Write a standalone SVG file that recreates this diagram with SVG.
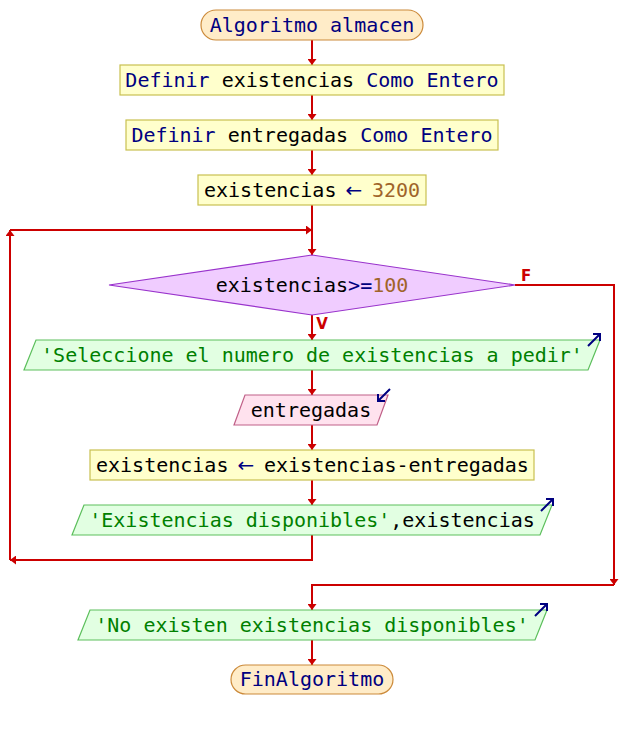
<svg xmlns="http://www.w3.org/2000/svg" xmlns:xlink="http://www.w3.org/1999/xlink" width="624" height="730" viewBox="0 0 624 730">
<style>
text{font-family:"DejaVu Sans Mono","Liberation Mono",monospace;font-size:20px;text-anchor:middle;fill:#000}
text.st{text-anchor:start}
.k{fill:#000080}
.ar{fill:#000080;font-family:"DejaVu Sans","Liberation Sans",sans-serif;font-size:20px}
.n{fill:#a0642a}
.s{fill:#008000}
.term{fill:#ffecc8;stroke:#cc8a3a;stroke-width:1.2}
.proc{fill:#ffffcc;stroke:#c8c050;stroke-width:1.2}
.dec{fill:#f0ccff;stroke:#9933cc;stroke-width:1.2}
.out{fill:#e2ffe2;stroke:#5cbf5c;stroke-width:1.2}
.in{fill:#ffe2ee;stroke:#c06088;stroke-width:1.2}
.c{fill:none;stroke:#cc0000;stroke-width:2;marker-end:url(#ah)}
.lbl{font-family:"DejaVu Sans","Liberation Sans",sans-serif;font-size:15px;font-weight:bold;fill:#cc0000}
.io{fill:none;stroke:#000080;stroke-width:2}
</style>
<defs>
<marker id="ah" viewBox="0 0 6 9" refX="6" refY="4.5" markerWidth="6" markerHeight="9" markerUnits="userSpaceOnUse" orient="auto"><path d="M0,0 L6,4.5 L0,9 z" fill="#cc0000"/></marker>
<path id="oa" class="io" d="M0,13 L12,1 M5,1 L12,1 L12,8"/>
<path id="ia" class="io" d="M13,0 L1,12 M1,5 L1,12 L8,12"/>
</defs>

<g id="connectors">
<path class="c" d="M312,40 V65"/>
<path class="c" d="M312,95 V120"/>
<path class="c" d="M312,150 V175"/>
<path class="c" d="M312,205 V255"/>
<path class="c" d="M312,315 V340"/>
<path class="c" d="M312,370 V395"/>
<path class="c" d="M312,425 V450"/>
<path class="c" d="M312,480 V505"/>
<path class="c" d="M312,535 V560 H10"/>
<path class="c" d="M10,560 V230"/>
<path class="c" d="M10,230 H312"/>
<path class="c" d="M515,285 H614 V585"/>
<path class="c" d="M614,585 H312 V610"/>
<path class="c" d="M312,640 V665"/>
<text class="lbl" x="322" y="329">V</text>
<text class="lbl" x="526" y="281">F</text>
</g>

<g id="start">
<rect class="term" x="201" y="10" width="222" height="30" rx="15" ry="15"/>
<text x="312" y="32"><tspan class="k">Algoritmo almacen</tspan></text>
</g>

<g id="def1">
<rect class="proc" x="120" y="65" width="384" height="30"/>
<text x="312" y="87"><tspan class="k">Definir</tspan> existencias <tspan class="k">Como Entero</tspan></text>
</g>

<g id="def2">
<rect class="proc" x="126" y="120" width="372" height="30"/>
<text x="312" y="142"><tspan class="k">Definir</tspan> entregadas <tspan class="k">Como Entero</tspan></text>
</g>

<g id="assign1">
<rect class="proc" x="198" y="175" width="228" height="30"/>
<text class="st" x="204" y="197">existencias<tspan class="ar" x="345.5">←</tspan><tspan class="n" x="372">3200</tspan></text>
</g>

<g id="cond">
<polygon class="dec" points="312,255 515,285 312,315 109,285"/>
<text x="312" y="292">existencias<tspan class="k">&gt;=</tspan><tspan class="n">100</tspan></text>
</g>

<g id="out1">
<polygon class="out" points="36,340 600,340 588,370 24,370"/>
<text x="312" y="362"><tspan class="s">'Seleccione el numero de existencias a pedir'</tspan></text>
<use xlink:href="#oa" x="588" y="333"/>
</g>

<g id="in1">
<polygon class="in" points="245,395 388,395 377,425 234,425"/>
<text x="311" y="417">entregadas</text>
<use xlink:href="#ia" x="377" y="389"/>
</g>

<g id="assign2">
<rect class="proc" x="90" y="450" width="444" height="30"/>
<text class="st" x="96" y="472">existencias<tspan class="ar" x="237.5">←</tspan><tspan x="264">existencias-entregadas</tspan></text>
</g>

<g id="out2">
<polygon class="out" points="84,505 552,505 540,535 72,535"/>
<text x="312" y="527"><tspan class="s">'Existencias disponibles'</tspan>,existencias</text>
<use xlink:href="#oa" x="541" y="498"/>
</g>

<g id="out3">
<polygon class="out" points="90,610 547,610 535,640 78,640"/>
<text x="312" y="632"><tspan class="s">'No existen existencias disponibles'</tspan></text>
<use xlink:href="#oa" x="535" y="603"/>
</g>

<g id="end">
<rect class="term" x="231" y="665" width="162" height="29" rx="14.5" ry="14.5"/>
<text x="312" y="686"><tspan class="k">FinAlgoritmo</tspan></text>
</g>
</svg>
